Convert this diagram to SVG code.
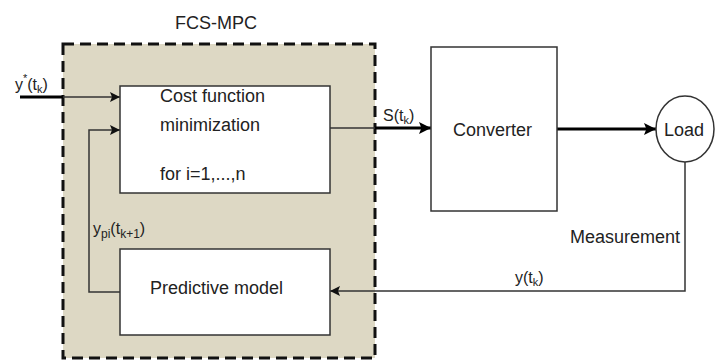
<svg xmlns="http://www.w3.org/2000/svg" width="724" height="360" viewBox="0 0 724 360">
<defs>
<marker id="ah" viewBox="0 0 10 10" refX="10" refY="5" markerWidth="10" markerHeight="10" markerUnits="userSpaceOnUse" orient="auto">
<path d="M0,0 L10,5 L0,10 L2,5 Z" fill="#111"/>
</marker>
<marker id="ahb" viewBox="0 0 10 10" refX="10" refY="5" markerWidth="12" markerHeight="12" markerUnits="userSpaceOnUse" orient="auto">
<path d="M0,0 L10,5 L0,10 L2,5 Z" fill="#000"/>
</marker>
</defs>
<style>
text{font-family:"Liberation Sans",Arial,sans-serif;fill:#222;}
.lbl{font-size:18px;}
.sm{font-size:16px;}
.box{fill:#fff;stroke:#333;stroke-width:1.5;}
.thin{fill:none;stroke:#333;stroke-width:1.5;}
.thick{fill:none;stroke:#000;stroke-width:3;}
</style>
<rect width="724" height="360" fill="#fff"/>
<g id="fcs-mpc">
<rect x="63" y="44" width="312" height="314" fill="#ddd8c4" stroke="#111" stroke-width="3" stroke-dasharray="11,6"/>
<text class="lbl" x="175" y="29">FCS-MPC</text>
</g>
<g id="connectors">
<line x1="20" y1="97" x2="63" y2="97" class="thick"/>
<line x1="63" y1="97" x2="120" y2="97" class="thin" marker-end="url(#ah)"/>
<polyline points="120,292 89,292 89,130 120,130" class="thin" marker-end="url(#ah)"/>
<line x1="330" y1="128" x2="375" y2="128" class="thin"/>
<line x1="375" y1="128" x2="431" y2="128" class="thick" marker-end="url(#ahb)"/>
<line x1="557" y1="129" x2="656" y2="129" class="thick" marker-end="url(#ahb)"/>
<polyline points="685,162 685,291 330,291" class="thin" marker-end="url(#ah)"/>
<text class="sm" x="15" y="90">y<tspan font-size="11" dy="-8">*</tspan><tspan dy="8">(t</tspan><tspan font-size="11" dy="3">k</tspan><tspan dy="-3">)</tspan></text>
<text class="sm" x="383" y="121">S(t<tspan font-size="11" dy="3">k</tspan><tspan dy="-3">)</tspan></text>
<text class="sm" x="93" y="234">y<tspan font-size="12" dy="4">pi</tspan><tspan dy="-4">(t</tspan><tspan font-size="12" dy="4">k+1</tspan><tspan dy="-4">)</tspan></text>
<text class="sm" x="515" y="283">y(t<tspan font-size="11" dy="3">k</tspan><tspan dy="-3">)</tspan></text>
<text class="lbl" x="570" y="243">Measurement</text>
</g>
<g id="cost">
<rect x="120" y="86" width="210" height="107" class="box"/>
<text class="lbl" x="160" y="102">Cost function</text>
<text class="lbl" x="160" y="131">minimization</text>
<text class="lbl" x="160" y="180">for i=1,...,n</text>
</g>
<g id="predictive">
<rect x="120" y="249" width="210" height="86" class="box"/>
<text class="lbl" x="150" y="294">Predictive model</text>
</g>
<g id="converter">
<rect x="431" y="47" width="126" height="164" class="box"/>
<text class="lbl" x="453" y="136">Converter</text>
</g>
<g id="load">
<ellipse cx="685" cy="129" rx="29" ry="33" class="box"/>
<text class="lbl" x="664" y="136">Load</text>
</g>
</svg>
